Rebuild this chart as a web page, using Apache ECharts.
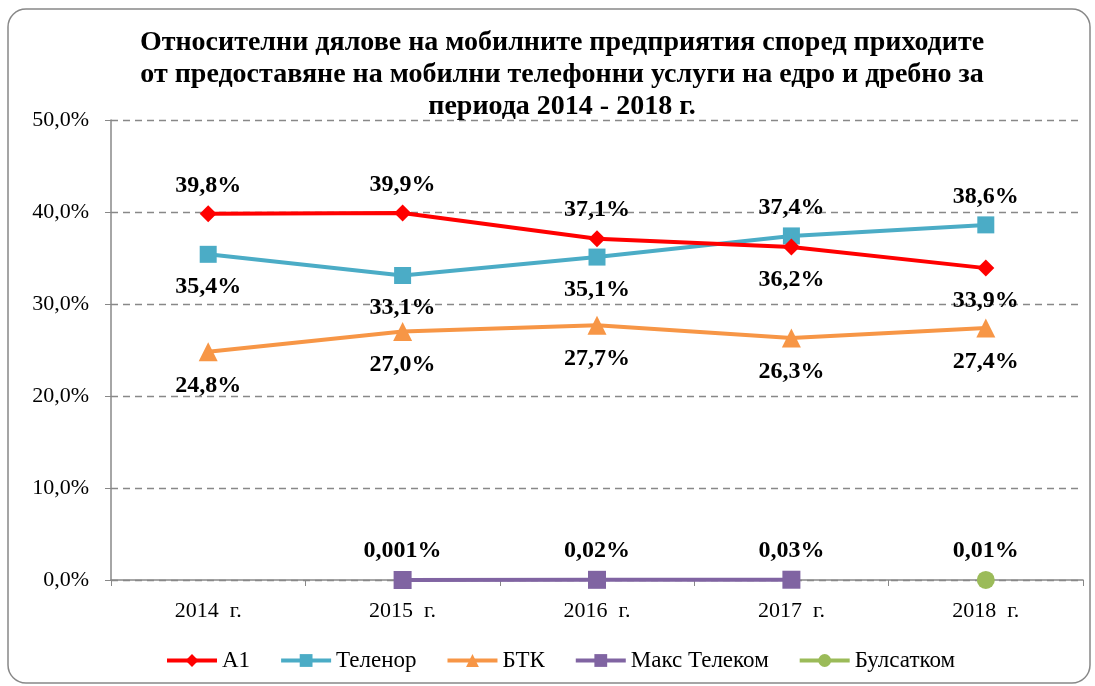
<!DOCTYPE html>
<html>
<head>
<meta charset="utf-8">
<script src="https://cdn.jsdelivr.net/npm/echarts@6/dist/echarts.min.js"></script>
<style>
  html, body { margin: 0; padding: 0; background: #fff; }
  #chart { width: 1095px; height: 686px; }
</style>
</head>
<body>
<div id="chart"></div>
<script>
// години
var years = ['2014  г.', '2015  г.', '2016  г.', '2017  г.', '2018  г.'];
// дялове в %
var a1 = [39.8, 39.9, 37.1, 36.2, 33.9];
var telenor = [35.4, 33.1, 35.1, 37.4, 38.6];
var btk = [24.8, 27.0, 27.7, 26.3, 27.4];
var maxTelecom = [null, 0.001, 0.02, 0.03, null];
var bulsatcom = [null, null, null, null, 0.01];
// къде стоят етикетите
var a1Pos = ['top', 'top', 'top', 'bottom', 'bottom'];
var telenorPos = ['bottom', 'bottom', 'bottom', 'top', 'top'];

var serif = '"Liberation Serif", "Times New Roman", serif';

function fmt1(v) { return v.toFixed(1).replace('.', ',') + '%'; }
function fmtRaw(v) { return String(v).replace('.', ',') + '%'; }

function gap(pos) { return pos == 'top' ? 8 : 12; }

function withPos(arr, pos) {
	return arr.map(function (v, i) {
		return { value: v, label: { position: pos[i], distance: gap(pos[i]) } };
	});
}

function labelCfg(pos, f) {
	return {
		show: true,
		position: pos,
		distance: gap(pos),
		fontFamily: serif,
		fontWeight: 'bold',
		fontSize: 24,
		color: '#000',
		formatter: function (p) { return f(p.value); }
	};
}

var chart = echarts.init(document.getElementById('chart'));
var option = {
	animation: false,
	backgroundColor: '#fff',
	graphic: [{
		type: 'rect',
		shape: { x: 8, y: 9, width: 1082, height: 674, r: 18 },
		style: { fill: 'none', stroke: '#888', lineWidth: 1.5 },
		silent: true
	}],
	title: {
		text: 'Относителни дялове на мобилните предприятия според приходите\nот предоставяне на мобилни телефонни услуги на едро и дребно за\nпериода 2014 - 2018 г.',
		left: 557,
		textAlign: 'center',
		top: 22,
		textStyle: {
			fontFamily: serif,
			fontWeight: 'bold',
			fontSize: 28,
			lineHeight: 32,
			color: '#000'
		}
	},
	legend: {
		bottom: 9,
		left: 160,
		itemWidth: 50,
		itemHeight: 16,
		itemGap: 29,
		lineStyle: { width: 4 },
		textStyle: { fontFamily: serif, fontSize: 23, color: '#000' },
		data: ['А1', 'Теленор', 'БТК', 'Макс Телеком', 'Булсатком']
	},
	grid: { left: 111, right: 12, top: 120, bottom: 106 },
	xAxis: {
		type: 'category',
		data: years,
		boundaryGap: true,
		axisLine: { lineStyle: { color: '#888', width: 1.5 } },
		axisTick: { show: true, length: 6, lineStyle: { color: '#888' } },
		axisLabel: { fontFamily: serif, fontSize: 22, color: '#000', margin: 20 }
	},
	yAxis: {
		type: 'value',
		min: 0,
		max: 50,
		interval: 10,
		axisLine: { show: true, lineStyle: { color: '#888', width: 1.5 } },
		axisTick: { show: true, length: 6, lineStyle: { color: '#888' } },
		axisLabel: { fontFamily: serif, fontSize: 22, color: '#000', margin: 22, formatter: fmt1 },
		splitLine: { lineStyle: { color: '#888', type: [7, 5], width: 1.3 } }
	},
	series: [
		{
			name: 'А1', type: 'line',
			data: withPos(a1, a1Pos),
			symbol: 'diamond', symbolSize: 17,
			lineStyle: { width: 4, color: '#ff0000' },
			itemStyle: { color: '#ff0000' },
			label: labelCfg('top', fmt1),
			z: 4
		},
		{
			name: 'Теленор', type: 'line',
			data: withPos(telenor, telenorPos),
			symbol: 'rect', symbolSize: 17,
			lineStyle: { width: 4, color: '#4bacc6' },
			itemStyle: { color: '#4bacc6' },
			label: labelCfg('bottom', fmt1),
			z: 3
		},
		{
			name: 'БТК', type: 'line',
			data: btk,
			symbol: 'triangle', symbolSize: 19,
			lineStyle: { width: 4, color: '#f79646' },
			itemStyle: { color: '#f79646' },
			label: labelCfg('bottom', fmt1),
			z: 3
		},
		{
			name: 'Макс Телеком', type: 'line',
			data: maxTelecom,
			symbol: 'rect', symbolSize: 18,
			lineStyle: { width: 4, color: '#8064a2' },
			itemStyle: { color: '#8064a2' },
			label: labelCfg('top', fmtRaw),
			z: 3
		},
		{
			name: 'Булсатком', type: 'line',
			data: bulsatcom,
			symbol: 'circle', symbolSize: 18,
			lineStyle: { width: 4, color: '#9bbb59' },
			itemStyle: { color: '#9bbb59' },
			label: labelCfg('top', fmtRaw),
			z: 3
		}
	]
};
chart.setOption(option);
</script>
</body>
</html>
